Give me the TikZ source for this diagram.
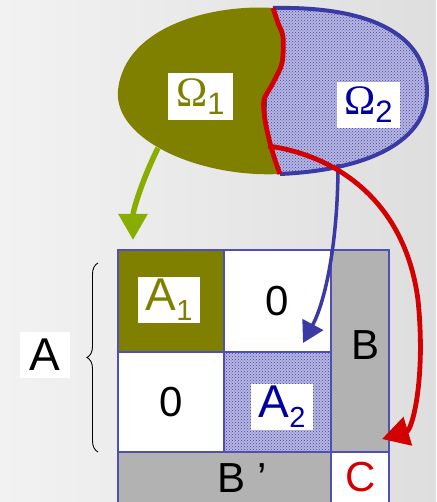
\documentclass[tikz,border=0pt]{standalone}
\usepackage{fontspec}
\setmainfont{Liberation Sans}
\newfontfamily\omegafont{Liberation Serif}
\usetikzlibrary{arrows.meta,patterns,decorations.pathreplacing,calc}

\definecolor{oliveC}{RGB}{128,128,0}
\definecolor{blueLine}{RGB}{58,58,165}
\definecolor{cellLine}{RGB}{80,80,180}
\definecolor{blueText}{RGB}{0,0,160}
\definecolor{redC}{RGB}{210,0,0}
\definecolor{greenC}{RGB}{136,172,0}
\definecolor{grayC}{RGB}{178,178,178}
\definecolor{dotBg}{RGB}{182,182,224}
\definecolor{dotFg}{RGB}{70,70,168}
\definecolor{bgL}{RGB}{242,242,242}
\definecolor{bgR}{RGB}{222,222,222}

\newcommand\fsz[1]{\fontsize{#1}{#1}\selectfont}

\tikzset{
  cell/.style={draw=cellLine, line width=1.5pt, inner sep=0pt, anchor=north west},
  dotfill/.style={fill=dotBg, postaction={pattern=crosshatch dots, pattern color=dotFg}},
  lab/.style={fill=white, inner sep=0pt},
  big/.style={font=\fsz{42}},
}

\begin{document}
\begin{tikzpicture}[x=1pt,y=-1pt]
\useasboundingbox (0,0) rectangle (436,502);
\shade[left color=bgL, right color=bgR] (0,0) rectangle (436,502);

% ---- the domain: two subdomains separated by the interface
\fill[oliveC] plot[smooth] coordinates {(280,174)(275,160)(270,143)(265,120)(264,100)(273,83)(282,63)(283,37)(278,23)(273,8)}
  .. controls (215,4) and (125,25) .. (118,90)
  .. controls (113,140) and (200,178) .. (280,174) -- cycle;
\path[dotfill] plot[smooth] coordinates {(273,8)(278,23)(283,37)(282,63)(273,83)(264,100)(265,120)(270,143)(275,160)(280,174)}
  .. controls (370,170) and (428,140) .. (427,90)
  .. controls (426,40) and (380,6) .. (273,8) -- cycle;
\draw[blueLine, line width=4pt] (280,174) .. controls (370,170) and (428,140) .. (427,90)
  .. controls (426,40) and (380,6) .. (273,8);
\draw[blueLine, line width=2pt] plot[smooth] coordinates {(266,100)(266,120)(271,143)};
\draw[redC, line width=4.8pt] plot[smooth] coordinates {(273,8)(278,23)(283,37)(282,63)(273,83)(264,100)(265,120)(270,143)(275,160)(280,174)};

\node[lab, minimum width=65pt, minimum height=47pt, text=oliveC] (om1) at (200.5,96.5)
  {\fsz{42}\omegafont Ω\raisebox{-8pt}{\fsz{31}\rmfamily 1}};
\node[lab, minimum width=63pt, minimum height=46pt, text=blueText] (om2) at (368.5,105)
  {\fsz{42}\omegafont Ω\raisebox{-8pt}{\fsz{31}\rmfamily 2}};

% ---- block matrix
\node[cell, fill=oliveC, minimum width=106pt, minimum height=102pt] (a1) at (117,249) {};
\node[cell, fill=white, minimum width=107pt, minimum height=102pt, big] (z1) at (223,249) {0};
\node[cell, fill=grayC, minimum width=58pt, minimum height=202pt] (b) at (330,249) {};
\node[cell, fill=white, minimum width=106pt, minimum height=100pt, big] (z2) at (117,351) {0};
\node[cell, dotfill, minimum width=107pt, minimum height=100pt] (a2) at (223,351) {};
\node[cell, fill=grayC, minimum width=213pt, minimum height=56pt] (bp) at (117,451) {};
\node[cell, fill=white, minimum width=58pt, minimum height=56pt] (c) at (330,451) {};

\node[lab, minimum width=62pt, minimum height=46pt, text=oliveC] (a1l) at (169,300)
  {\fsz{46}A\raisebox{-10pt}{\fsz{29}1}};
\node[lab, minimum width=62pt, minimum height=46pt, text=blueText] (a2l) at (282,407)
  {\fsz{46}A\raisebox{-10pt}{\fsz{29}2}};
\node[big] (bl) at (365,345) {B};
\node[big] (bpl) at (242,478) {B ’};
\node[big, text=redC] (cl) at (361,477) {C};

% ---- brace and label of the interior block
\draw[line width=0.9pt, decorate, decoration={brace, amplitude=11pt}] (98,452) -- (98,263);
\node[lab, minimum width=50pt, minimum height=46pt, font=\fsz{46}] (al) at (45,355) {A};

% ---- connectors from the subdomains to their blocks
\coordinate (g0) at (158,148);
\coordinate (u0) at (338,164);
\coordinate (r0) at (268,146);
\draw[greenC, line width=5.5pt, -{Triangle[width=28pt,length=26pt]}]
  (g0) .. controls (143,178) and (133,210) .. ([xshift=16pt,yshift=9pt]a1.north west);
\draw[blueLine, line width=3.5pt, -{Triangle[width=23pt,length=21pt]}]
  (u0) .. controls (338,240) and (326,300) .. ([xshift=80pt,yshift=8pt]a2.north west);
\draw[redC, line width=4.8pt, -{Triangle[width=29pt,length=27pt]}]
  (r0) .. controls (335,155) and (405,200) .. (418,300)
  .. controls (426,380) and (412,430) .. ([xshift=52pt,yshift=12pt]c.north west);
\end{tikzpicture}
\end{document}
